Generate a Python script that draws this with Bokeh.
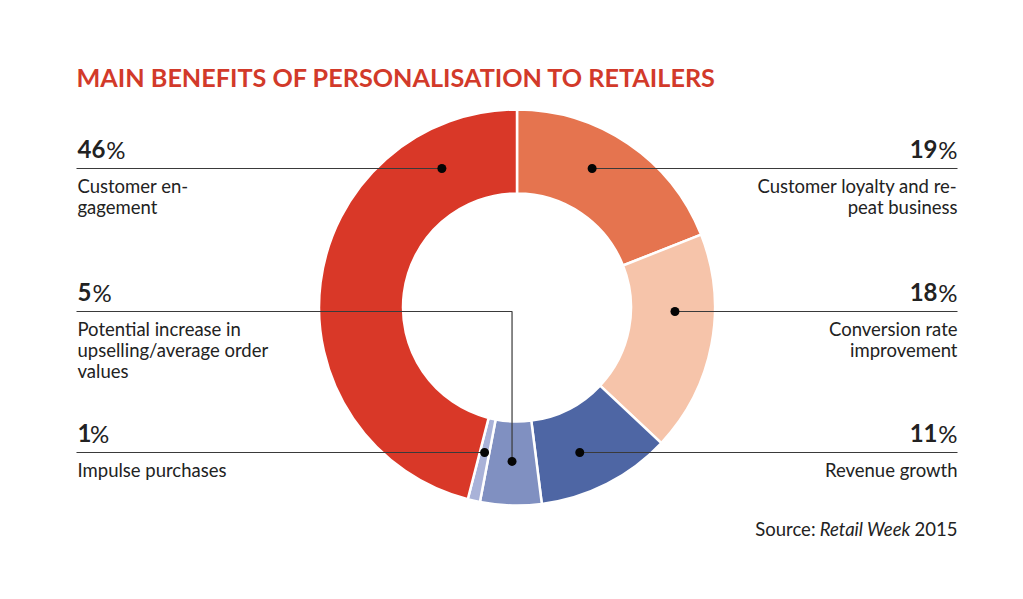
import math
from bokeh.plotting import figure
from bokeh.models import Range1d, ColumnDataSource
from bokeh.core.properties import value
from bokeh.embed import file_html
from bokeh.resources import INLINE

# ---------------- data ----------------
title = "MAIN BENEFITS OF PERSONALISATION TO RETAILERS"
# slices, clockwise from 12 o'clock
shares = [19, 18, 11, 5, 1, 46]
descriptions = [
    ["Customer loyalty and re-", "peat business"],
    ["Conversion rate", "improvement"],
    ["Revenue growth"],
    ["Potential increase in", "upselling/average order", "values"],
    ["Impulse purchases"],
    ["Customer en-", "gagement"],
]
colors = ["#E5744F", "#F6C4AA", "#4E66A4", "#8090C1", "#A9B2D8", "#D93828"]
source_parts = ["Source:", "Retail Week", "2015"]

# ---------------- layout (reference pixel coords, y down) ----------------
H = 599
cx, cy = 516.5, 307.0
r_out, r_in = 198.0, 114.0
r_mid = 158.0
side = ["right", "right", "right", "left", "left", "left"]
row_y = [168, 311, 452, 311, 452, 168]
leader = ["ring", "ring", "ring", "vertical", "angle", "ring"]
left_x, right_x = 77, 957
INK = "#222222"
LINE = "#3a3a3a"
FONT = "Lato"
TSHIFT = 0.42  # empirical baseline correction (em)


def Y(y):
    return H - y


def TY(y, size):
    return H - (y - TSHIFT * size)


p = figure(width=1007, height=583, x_range=Range1d(0, 1007), y_range=Range1d(16, 599),
           output_backend="svg", toolbar_location=None, min_border=0,
           outline_line_color=None, background_fill_color="white",
           border_fill_color="white")
p.axis.visible = False
p.xgrid.visible = False
p.ygrid.visible = False

# ---------------- donut ----------------
total = float(sum(shares))
cum = [0.0]
for s in shares:
    cum.append(cum[-1] + s / total)
starts = [math.pi / 2 - 2 * math.pi * cum[i + 1] for i in range(len(shares))]
ends = [math.pi / 2 - 2 * math.pi * cum[i] for i in range(len(shares))]
src = ColumnDataSource(dict(x=[cx] * len(shares), y=[Y(cy)] * len(shares),
                            start=starts, end=ends, color=colors))
p.annular_wedge(x="x", y="y", inner_radius=r_in, outer_radius=r_out,
                start_angle="start", end_angle="end", fill_color="color",
                line_color="white", line_width=2.5, source=src)

# ---------------- leaders ----------------
dot_x, dot_y = [], []
for i, s in enumerate(shares):
    ry = row_y[i]
    mid = 2 * math.pi * (cum[i] + cum[i + 1]) / 2  # clockwise from top
    if leader[i] == "ring":
        dy = ry - cy
        dx = math.sqrt(max(r_mid ** 2 - dy ** 2, 0))
        dx = dx if math.sin(mid) >= 0 else -dx
        px, py = cx + dx, ry
        xs = [left_x - 1, px] if side[i] == "left" else [px, right_x]
        p.line(xs, [Y(ry), Y(ry)], line_color=LINE, line_width=1.2)
    elif leader[i] == "angle":
        dy = ry - cy
        px = cx - dy * math.tan(mid - math.pi)
        py = ry
        p.line([left_x - 1, px], [Y(ry), Y(ry)], line_color=LINE, line_width=1.2)
    else:  # vertical
        px = cx + r_mid * math.sin(mid)
        py = cy - r_mid * math.cos(mid) - 4
        p.line([left_x - 1, px, px], [Y(ry), Y(ry), Y(py)], line_color=LINE, line_width=1.2)
    dot_x.append(px)
    dot_y.append(Y(py))
p.scatter(dot_x, dot_y, size=9, fill_color="#050505", line_color=None)

# ---------------- labels ----------------
PCT = 24
BODY = 18.5
LH = 21.2


def digits_width(t):
    return sum((0.48 if ch == "1" else 0.58) * PCT for ch in t)


for i, s in enumerate(shares):
    ry = row_y[i]
    num = str(s)
    by = TY(ry - 9, PCT)
    if side[i] == "left":
        p.text([left_x], [by], text=[num], text_font=value(FONT), text_font_style="bold",
               text_font_size=f"{PCT}px", text_color=INK, text_align="left", text_baseline="alphabetic")
        p.text([left_x + digits_width(num) + 1], [by], text=["%"], text_font=value(FONT),
               text_font_size=f"{PCT}px", text_color=INK, text_align="left", text_baseline="alphabetic")
        xs, al = left_x, "left"
    else:
        p.text([right_x], [by], text=["%"], text_font=value(FONT),
               text_font_size=f"{PCT}px", text_color=INK, text_align="right", text_baseline="alphabetic")
        p.text([right_x - 20], [by], text=[num], text_font=value(FONT), text_font_style="bold",
               text_font_size=f"{PCT}px", text_color=INK, text_align="right", text_baseline="alphabetic")
        xs, al = right_x, "right"
    lines = descriptions[i]
    p.text([xs] * len(lines), [TY(ry + 25 + k * LH, BODY) for k in range(len(lines))], text=lines,
           text_font=value(FONT), text_font_size=f"{BODY}px", text_color=INK,
           text_align=al, text_baseline="alphabetic")

# ---------------- title ----------------
p.text([left_x - 1], [TY(87, 25.2)], text=[title], text_font=value(FONT), text_font_style="bold",
       text_font_size="25.2px", text_color="#D23A2A", text_align="left", text_baseline="alphabetic")

# ---------------- source ----------------
sy = TY(536, BODY)
p.text([right_x], [sy], text=[source_parts[2]], text_font=value(FONT), text_font_size=f"{BODY}px",
       text_color=INK, text_align="right", text_baseline="alphabetic")
p.text([right_x - 47], [sy], text=[source_parts[1]], text_font=value(FONT), text_font_style="italic",
       text_font_size=f"{BODY}px", text_color=INK, text_align="right", text_baseline="alphabetic")
p.text([right_x - 47 - 95], [sy], text=[source_parts[0]], text_font=value(FONT), text_font_size=f"{BODY}px",
       text_color=INK, text_align="right", text_baseline="alphabetic")

open("out.html", "w").write(file_html(p, INLINE))
